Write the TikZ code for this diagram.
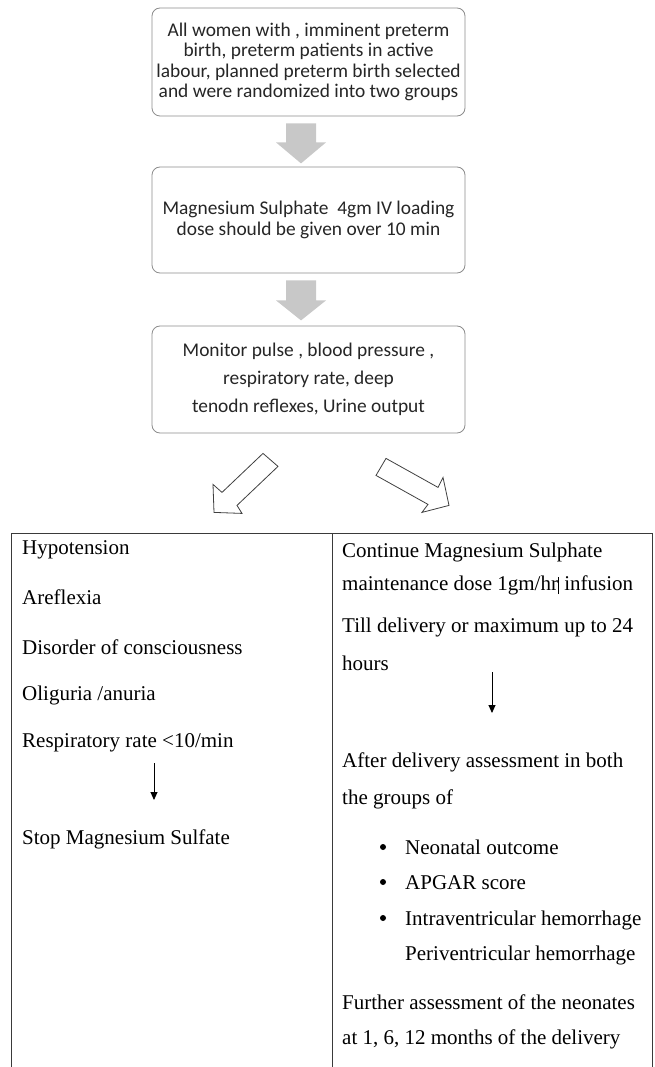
\documentclass[tikz,border=0pt]{standalone}
\usepackage{fontspec}
\setmainfont{Liberation Serif}
\newfontfamily\boxfont{Carlito}
\usetikzlibrary{calc,arrows.meta}
\definecolor{boxgray}{HTML}{8C8C8C}
\definecolor{textdark}{HTML}{262626}
\definecolor{arrowgray}{HTML}{C8C8C8}
\definecolor{tablegray}{HTML}{3A3A3A}
\definecolor{hollowgray}{HTML}{404040}
\begin{document}
\begin{tikzpicture}[x=1pt,y=-1pt,
  flowbox/.style={draw=boxgray, rounded corners=8pt, line width=0.8pt, minimum width=313pt,
    align=center, font=\boxfont\fontsize{19.4}{20.5}\selectfont, text=textdark, inner sep=0pt},
  cellbox/.style={draw=tablegray, line width=1pt, anchor=north west, inner sep=0pt, minimum height=560pt},
  celltext/.style={anchor=base west, inner sep=0pt, font=\fontsize{21}{25}\selectfont, text=black},
  bulletmark/.style={circle, fill=black, inner sep=0pt, minimum size=6pt},
  grayarrow/.style={fill=arrowgray, draw=none},
  hollowarrow/.style={draw=hollowgray, line width=0.8pt, fill=white, line join=miter},
  smallarrow/.style={-{Triangle[length=8pt,width=7pt]}, line width=0.9pt, draw=black}
]
\useasboundingbox (0,0) rectangle (654,1067);
\fill[white] (0,0) rectangle (654,1067);

% flow boxes
\node[flowbox, minimum height=108pt] (b1) at (308.5,62)
  {All women with , imminent preterm\\birth, preterm patients in active\\labour, planned preterm birth selected\\and were randomized into two groups};
\node[flowbox, minimum height=106pt] (b2) at (308.5,220)
  {Magnesium Sulphate\ \ 4gm IV loading\\dose should be given over 10 min};
\node[flowbox, minimum height=107pt, font=\boxfont\fontsize{19.4}{28}\selectfont] (b3) at (308.5,379.5)
  {Monitor pulse , blood pressure ,\\respiratory rate, deep\\tenodn reflexes, Urine output};

% gray block arrows
\fill[grayarrow] ($(b1.south)+(-22.5,7)$) -- ($(b1.south)+(7.5,7)$) -- ($(b1.south)+(7.5,26)$)
  -- ($(b1.south)+(17.5,26)$) -- ($(b1.south)+(-7.5,47)$) -- ($(b1.south)+(-32.5,26)$)
  -- ($(b1.south)+(-22.5,26)$) -- cycle;
\fill[grayarrow] ($(b2.south)+(-22.5,7)$) -- ($(b2.south)+(7.5,7)$) -- ($(b2.south)+(7.5,27)$)
  -- ($(b2.south)+(17.5,27)$) -- ($(b2.south)+(-7.5,47)$) -- ($(b2.south)+(-32.5,27)$)
  -- ($(b2.south)+(-22.5,27)$) -- cycle;

% table cells
\node[cellbox, minimum width=321pt] (lc) at (11,533) {};
\node[cellbox, minimum width=320pt] (rc) at (332,533) {};

% hollow arrows
\draw[hollowarrow] ($(b3.south)+(-45.5,20)$) -- ($(b3.south)+(-30.5,33)$) -- ($(b3.south)+(-71.5,72)$)
  -- ($(b3.south)+(-66.5,80)$) -- ($(b3.south)+(-94.5,79)$) -- ($(b3.south)+(-95.5,51)$)
  -- ($(b3.south)+(-86.5,59)$) -- cycle;
\draw[hollowarrow] ($(b3.south)+(77.5,25)$) -- ($(b3.south)+(67.5,42)$) -- ($(b3.south)+(119.5,71)$)
  -- ($(b3.south)+(113.5,79)$) -- ($(b3.south)+(140.5,72)$) -- ($(b3.south)+(134.5,44)$)
  -- ($(b3.south)+(129.5,54)$) -- cycle;

% left column
\node[celltext] (l1) at (22,554) {Hypotension};
\node[celltext] (l2) at (22,604) {Areflexia};
\node[celltext] (l3) at (22,654) {Disorder of consciousness};
\node[celltext] (l4) at (22,700) {Oliguria /anuria};
\node[celltext] (l5) at (22,747) {Respiratory rate <10/min};
\node[celltext] (l6) at (22,844) {Stop Magnesium Sulfate};
\coordinate (la1) at (154,763);
\coordinate (la2) at (154,800);
\draw[smallarrow] (la1) -- (la2);

% right column
\node[celltext] (r1) at (342,557) {Continue Magnesium Sulphate};
\node[celltext] (r2) at (342,590) {maintenance dose 1gm/hr\kern0.3pt\rule[-4pt]{0.8pt}{17pt} infusion};
\node[celltext] (r3) at (342,632) {Till delivery or maximum up to 24};
\node[celltext] (r4) at (342,670) {hours};
\coordinate (ra1) at (492,672);
\coordinate (ra2) at (492,713);
\draw[smallarrow] (ra1) -- (ra2);
\node[celltext] (r5) at (342,767) {After delivery assessment in both};
\node[celltext] (r6) at (342,804) {the groups of};
\node[bulletmark] (d1) at (383,847) {};
\node[celltext] (r7) at (405,854) {Neonatal outcome};
\node[bulletmark] (d2) at (383,882) {};
\node[celltext] (r8) at (405,889) {APGAR score};
\node[bulletmark] (d3) at (383,918) {};
\node[celltext] (r9) at (405,925) {Intraventricular hemorrhage};
\node[celltext] (r10) at (405,960) {Periventricular hemorrhage};
\node[celltext] (r11) at (342,1009) {Further assessment of the neonates};
\node[celltext] (r12) at (342,1044) {at 1, 6, 12 months of the delivery};
\end{tikzpicture}
\end{document}
